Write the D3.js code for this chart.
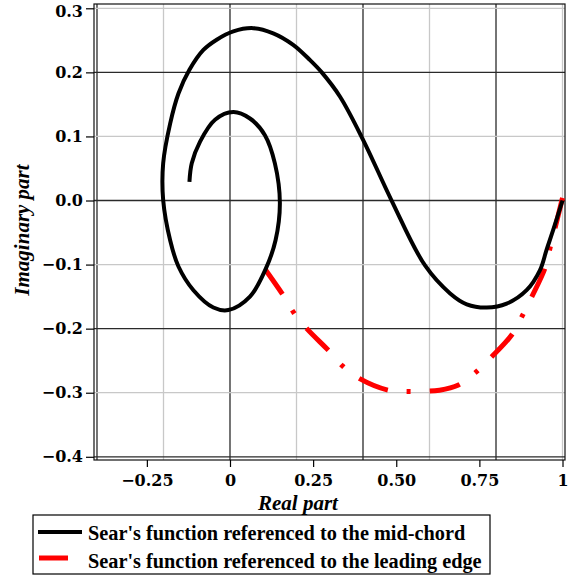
<!DOCTYPE html>
<html>
<head>
<meta charset="utf-8">
<script src="https://cdn.jsdelivr.net/npm/d3@7"></script>
<style>
  body { margin: 0; background: #fff; }
  svg { display: block; }
  .tick text { font-family: "DejaVu Serif", serif; font-weight: bold; font-size: 16px; fill: #000; }
  .title { font-family: "Liberation Serif", "Times New Roman", serif; font-weight: bold; font-style: italic; font-size: 21px; }
  .legend text { font-family: "Liberation Serif", "Times New Roman", serif; font-weight: bold; font-size: 20.3px; }
</style>
</head>
<body>
<div id="container"></div>
<script>
/* DATA */
const midChordRe = [-0.122, -0.115, -0.090, -0.045, 0.010, 0.060, 0.105, 0.135, 0.150, 0.137, 0.108, 0.060, -0.005, -0.050, -0.110, -0.155, -0.180, -0.201, -0.201, -0.180, -0.155, -0.122, -0.080, -0.040, 0.010, 0.070, 0.130, 0.190, 0.241, 0.276, 0.331, 0.401, 0.486, 0.586, 0.662, 0.712, 0.772, 0.832, 0.892, 0.932, 0.952, 0.972, 1.000]
const midChordIm = [0.029, 0.058, 0.092, 0.126, 0.138, 0.128, 0.102, 0.058, -0.004, -0.062, -0.106, -0.150, -0.171, -0.167, -0.140, -0.103, -0.062, 0.001, 0.058, 0.120, 0.167, 0.204, 0.235, 0.251, 0.264, 0.269, 0.261, 0.243, 0.219, 0.200, 0.162, 0.094, 0.000, -0.101, -0.145, -0.162, -0.167, -0.161, -0.140, -0.109, -0.077, -0.046, 0.000]

const leadEdgeRe = [1.000, 0.977, 0.962, 0.947, 0.907, 0.877, 0.847, 0.787, 0.737, 0.687, 0.630, 0.536, 0.476, 0.390, 0.340, 0.300, 0.231, 0.193, 0.160, 0.105]
const leadEdgeIm = [0.004, -0.044, -0.075, -0.106, -0.151, -0.182, -0.210, -0.244, -0.269, -0.288, -0.296, -0.298, -0.296, -0.278, -0.259, -0.236, -0.200, -0.176, -0.148, -0.107]

const xTicks = [-0.25, 0, 0.25, 0.5, 0.75, 1]
const xTickLabels = ["\u22120.25", "0", "0.25", "0.50", "0.75", "1"]
const yTicks = [0.3, 0.2, 0.1, 0, -0.1, -0.2, -0.3, -0.4]
const xGrid = [-0.4, -0.2, 0, 0.2, 0.4, 0.6, 0.8, 1.0]
const yGrid = [-0.4, -0.3, -0.2, -0.1, 0, 0.1, 0.2, 0.3]
const seriesNames = ["Sear's function referenced to the mid-chord", "Sear's function referenced to the leading edge"]

/* CONSTANTS */
const width = 570, height = 576
const frame = {left: 94, right: 565, top: 4, bottom: 460}

const svg = d3.select("#container")
  .append("svg")
  .attr("width", width)
  .attr("height", height)

/* SCALES */
const xScale = d3.scaleLinear()
  .domain([-0.409, 1.0075])
  .range([frame.left, frame.right])

const yScale = d3.scaleLinear()
  .domain([-0.405, 0.3067])
  .range([frame.bottom, frame.top])

// major grid lines (black) at multiples of 0.4 / 0.2, minor ones grey
const isMajorX = v => Math.abs(Math.round(v / 0.4) * 0.4 - v) < 1e-6
const isMajorY = v => Math.abs(Math.round(v / 0.2) * 0.2 - v) < 1e-6

const grid = svg.append("g")
grid.selectAll(".gx")
  .data(xGrid.slice().sort((a, b) => isMajorX(a) - isMajorX(b)))
  .join("line")
  .attr("x1", d => xScale(d)).attr("x2", d => xScale(d))
  .attr("y1", frame.top).attr("y2", frame.bottom)
  .attr("stroke", d => isMajorX(d) ? "#2a2a2a" : "#c8c8c8")
  .attr("stroke-width", 1.3)

grid.selectAll(".gy")
  .data(yGrid.slice().sort((a, b) => isMajorY(a) - isMajorY(b)))
  .join("line")
  .attr("y1", d => yScale(d)).attr("y2", d => yScale(d))
  .attr("x1", frame.left).attr("x2", frame.right)
  .attr("stroke", d => isMajorY(d) ? "#2a2a2a" : "#c8c8c8")
  .attr("stroke-width", 1.3)

// frame
svg.append("rect")
  .attr("x", frame.left).attr("y", frame.top)
  .attr("width", frame.right - frame.left)
  .attr("height", frame.bottom - frame.top)
  .attr("fill", "none")
  .attr("stroke", "#111")
  .attr("stroke-width", 1.2)

/* AXES */
const xAxis = d3.axisBottom(xScale)
  .tickValues(xTicks)
  .tickSize(7)
  .tickPadding(8)
  .tickFormat((d, i) => xTickLabels[i])

const yAxis = d3.axisLeft(yScale)
  .tickValues(yTicks)
  .tickSize(8)
  .tickPadding(3)
  .tickFormat(d => d3.format(".1f")(d).replace("-", "\u2212"))

svg.append("g")
  .attr("transform", `translate(0, ${frame.bottom})`)
  .call(xAxis)
  .call(g => g.select(".domain").remove())

svg.append("g")
  .attr("transform", `translate(${frame.left}, 0)`)
  .call(yAxis)
  .call(g => g.select(".domain").remove())
  // top label sits a little lower so it stays inside the picture
  .call(g => g.selectAll(".tick text").filter(d => d === 0.3).attr("dy", "0.5em"))

svg.selectAll(".tick line").attr("stroke", "#000").attr("stroke-width", 1.2)

/* CURVES */
const line = d3.line()
  .x(d => xScale(d[0]))
  .y(d => yScale(d[1]))
  .curve(d3.curveCatmullRom)

svg.append("path")
  .datum(leadEdgeRe.map((v, i) => [v, leadEdgeIm[i]]))
  .attr("d", line)
  .attr("fill", "none")
  .attr("stroke", "#ff0000")
  .attr("stroke-width", 5)
  .attr("stroke-dasharray", "31,19,4,19")

svg.append("path")
  .datum(midChordRe.map((v, i) => [v, midChordIm[i]]))
  .attr("d", line)
  .attr("fill", "none")
  .attr("stroke", "#000")
  .attr("stroke-width", 4)

/* TITLES */
svg.append("text")
  .attr("class", "title")
  .attr("text-anchor", "middle")
  .attr("x", 298)
  .attr("y", 510)
  .text("Real part")

svg.append("text")
  .attr("class", "title")
  .attr("text-anchor", "middle")
  .attr("transform", "translate(29, 230) rotate(-90)")
  .text("Imaginary part")

/* LEGEND */
const legend = svg.append("g").attr("class", "legend")
legend.append("rect")
  .attr("x", 33).attr("y", 515)
  .attr("width", 457).attr("height", 59)
  .attr("fill", "#fff")
  .attr("stroke", "#000")
  .attr("stroke-width", 1.2)

legend.append("line")
  .attr("x1", 38).attr("x2", 82).attr("y1", 532).attr("y2", 532)
  .attr("stroke", "#000").attr("stroke-width", 4)
legend.append("line")
  .attr("x1", 39).attr("x2", 68).attr("y1", 558).attr("y2", 558)
  .attr("stroke", "#ff0000").attr("stroke-width", 5)

legend.selectAll(".lbl")
  .data(seriesNames)
  .join("text")
  .attr("x", 88)
  .attr("y", (d, i) => 540 + i * 27.5)
  .text(d => d)
</script>
</body>
</html>
